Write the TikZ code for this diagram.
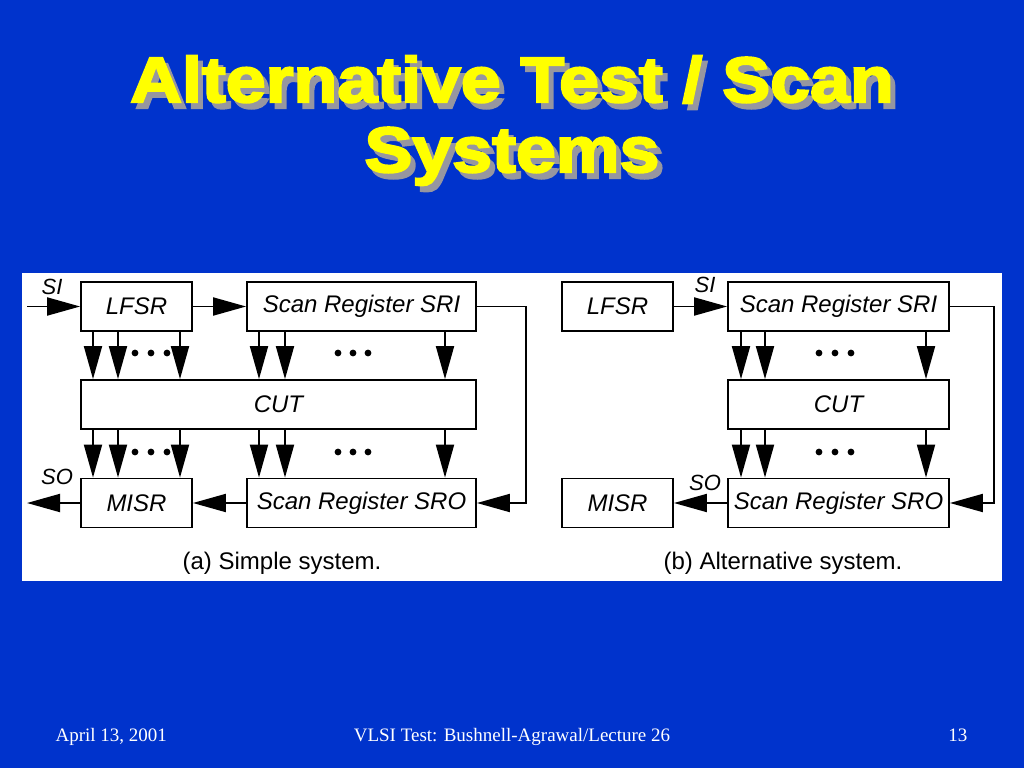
\documentclass[tikz,border=0pt]{standalone}
\usepackage{fontspec}
\usetikzlibrary{arrows.meta}
\setmainfont{Liberation Sans}
\newfontfamily\titlefont{Liberation Sans}[FakeStretch=1.12,BoldFeatures={FakeBold=3.5}]
\newfontfamily\footfont{Liberation Serif}

\definecolor{slideblue}{RGB}{0,51,204}
\definecolor{titleyellow}{RGB}{255,255,0}
\definecolor{shadowgray}{RGB}{150,150,160}

\tikzset{
  regbox/.style={draw, line width=1.8pt, inner sep=0pt, minimum height=49pt,
    font=\itshape\fontsize{24}{24}\selectfont},
  arr/.style={line width=1.9pt, -{Triangle[length=33pt,width=18pt]}},
  pinlabel/.style={font=\itshape\fontsize{22}{22}\selectfont},
  caption/.style={font=\fontsize{24}{24}\selectfont},
  titletext/.style={font=\titlefont\bfseries\fontsize{64}{70}\selectfont, anchor=base},
  foottext/.style={font=\footfont\fontsize{19}{19}\selectfont, text=white},
}

\begin{document}
\begin{tikzpicture}[x=1pt,y=-1pt]

		% Fondo de la diapositiva
		\useasboundingbox (0,0) rectangle (1024,768);
		\fill[slideblue] (0,0) rectangle (1024,768);
		\fill[white] (22,273) rectangle (1002,581);

		% Titulo con sombra
		\node[titletext, text=shadowgray] (titleAshadow) at (517,108) {Alternative Test / Scan};
		\node[titletext, text=shadowgray] (titleBshadow) at (517,178) {Systems};
		\node[titletext, text=titleyellow] (titleA) at (512,102) {Alternative Test / Scan};
		\node[titletext, text=titleyellow] (titleB) at (512,172) {Systems};

		% (a) Sistema simple
		\node[regbox, minimum width=111pt] (lfsrA) at (136.5,306.5) {LFSR};
		\node[regbox, minimum width=229pt] (sriA) at (361.5,306.5) {Scan Register SRI};
		\node[regbox, minimum width=395pt] (cutA) at (278.5,404.5) {CUT};
		\node[regbox, minimum width=111pt] (misrA) at (136.5,503) {MISR};
		\node[regbox, minimum width=229pt] (sroA) at (361.5,503) {Scan Register SRO};

		\coordinate (inA) at (27,306.5);
		\coordinate (outA) at (27,503);
		\draw[arr] (inA) -- (lfsrA.west);
		\draw[arr] (lfsrA) -- (sriA);
		\draw[arr] (sroA) -- (misrA);
		\draw[arr] (misrA.west) -- (outA);
		\draw[arr] (sriA.east) -- ++(49,0) |- (sroA.east);

		\foreach \x in {93,118,180} {
			\draw[arr] (lfsrA.south -| \x,0) -- (cutA.north -| \x,0);
			\draw[arr] (cutA.south -| \x,0) -- (misrA.north -| \x,0);
		}
		\foreach \x in {259,285,445} {
			\draw[arr] (sriA.south -| \x,0) -- (cutA.north -| \x,0);
			\draw[arr] (cutA.south -| \x,0) -- (sroA.north -| \x,0);
		}
		\foreach \x in {135,151,167,338,353,368} {
			\fill (\x,353) circle[radius=3.4];
			\fill (\x,452) circle[radius=3.4];
		}

		\node[pinlabel] (siA) at (52,287) {SI};
		\node[pinlabel] (soA) at (57,477) {SO};
		\node[caption] (capA) at (282,563) {(a) Simple system.};

		% (b) Sistema alternativo
		\node[regbox, minimum width=111pt] (lfsrB) at (617.5,306.5) {LFSR};
		\node[regbox, minimum width=221pt] (sriB) at (838.5,306.5) {Scan Register SRI};
		\node[regbox, minimum width=221pt] (cutB) at (838.5,404.5) {CUT};
		\node[regbox, minimum width=111pt] (misrB) at (617.5,503) {MISR};
		\node[regbox, minimum width=221pt] (sroB) at (838.5,503) {Scan Register SRO};

		\draw[arr] (lfsrB) -- (sriB);
		\draw[arr] (sroB) -- (misrB);
		\draw[arr] (sriB.east) -- ++(44,0) |- (sroB.east);

		\foreach \x in {741,765,926} {
			\draw[arr] (sriB.south -| \x,0) -- (cutB.north -| \x,0);
			\draw[arr] (cutB.south -| \x,0) -- (sroB.north -| \x,0);
		}
		\foreach \x in {819,835,851} {
			\fill (\x,353) circle[radius=3.4];
			\fill (\x,452) circle[radius=3.4];
		}

		\node[pinlabel] (siB) at (705,285) {SI};
		\node[pinlabel] (soB) at (705,483) {SO};
		\node[caption] (capB) at (783,563) {(b) Alternative system.};

		% Pie de pagina
		\node[foottext, anchor=base west] (date) at (52,741) {April 13, 2001};
		\node[foottext, anchor=base] (course) at (512,741) {VLSI Test: Bushnell-Agrawal/Lecture 26};
		\node[foottext, anchor=base east] (page) at (971,741) {13};

	\end{tikzpicture}
\end{document}
